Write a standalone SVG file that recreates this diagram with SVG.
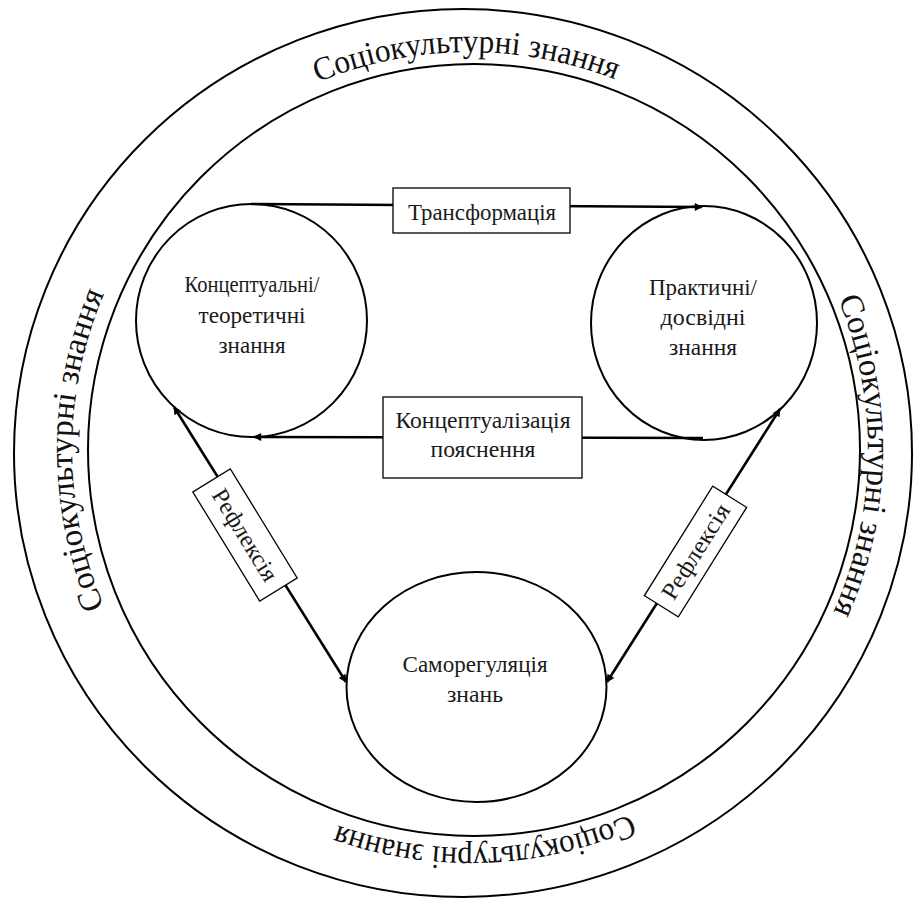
<svg xmlns="http://www.w3.org/2000/svg" width="913" height="899" viewBox="0 0 913 899">
<style>
.ring{fill:none;stroke:#000;stroke-width:2}
.node{fill:#fff;stroke:#000;stroke-width:2}
.lbl{font-family:"Liberation Serif","Times New Roman",serif;font-size:24px;fill:#1a1a1a;text-anchor:middle}
.arc{font-family:"Liberation Serif","Times New Roman",serif;font-size:33px;fill:#111;text-anchor:middle}
.edge{stroke:#000;stroke-width:2.6;fill:none}
.box{fill:#fff;stroke:#000;stroke-width:1.3}
</style>
<defs>
<marker id="ah" viewBox="0 0 10 10" refX="9" refY="5" markerWidth="12" markerHeight="8" markerUnits="userSpaceOnUse" orient="auto-start-reverse"><path d="M0,0 L10,5 L0,10 z" fill="#000"/></marker>
<path id="pTop" d="M 72 450 A 398 398 0 0 1 868 450"/>
<path id="pLeft" d="M 470 848 A 398 398 0 0 1 470 52"/>
<path id="pRight" d="M 470 52 A 398 398 0 0 1 470 848"/>
<path id="pBottom" d="M 868 450 A 398 398 0 0 1 72 450"/>
</defs>
<rect width="913" height="899" fill="#fff"/>
<g id="socio-ring">
<ellipse class="ring" cx="463" cy="453" rx="449" ry="444"/>
<circle class="ring" cx="474" cy="450" r="386"/>
<text class="arc"><textPath href="#pTop" startOffset="621" textLength="305" lengthAdjust="spacingAndGlyphs">Соціокультурні знання</textPath></text>
<text class="arc"><textPath href="#pLeft" startOffset="50%" textLength="322" lengthAdjust="spacingAndGlyphs">Соціокультурні знання</textPath></text>
<text class="arc"><textPath href="#pRight" startOffset="631" textLength="322" lengthAdjust="spacingAndGlyphs">Соціокультурні знання</textPath></text>
<text class="arc"><textPath href="#pBottom" startOffset="610" textLength="300" lengthAdjust="spacingAndGlyphs">Соціокультурні знання</textPath></text>
</g>
<g id="node-conceptual">
<ellipse class="node" cx="251.5" cy="320.5" rx="115.5" ry="116.5"/>
<text class="lbl" x="252" y="292" textLength="135" lengthAdjust="spacingAndGlyphs">Концептуальні/</text>
<text class="lbl" x="252" y="323" textLength="107" lengthAdjust="spacingAndGlyphs">теоретичні</text>
<text class="lbl" x="252" y="353" textLength="67" lengthAdjust="spacingAndGlyphs">знання</text>
</g>
<g id="node-practical">
<ellipse class="node" cx="704" cy="323" rx="113" ry="117"/>
<text class="lbl" x="703" y="295" textLength="108" lengthAdjust="spacingAndGlyphs">Практичні/</text>
<text class="lbl" x="703" y="325" textLength="85" lengthAdjust="spacingAndGlyphs">досвідні</text>
<text class="lbl" x="703" y="355" textLength="68" lengthAdjust="spacingAndGlyphs">знання</text>
</g>
<g id="node-selfreg">
<ellipse class="node" cx="476.5" cy="687" rx="130" ry="115"/>
<text class="lbl" x="475" y="672" textLength="145" lengthAdjust="spacingAndGlyphs">Саморегуляція</text>
<text class="lbl" x="475" y="702" textLength="56" lengthAdjust="spacingAndGlyphs">знань</text>
</g>
<g id="connectors">
<path class="edge" d="M 251 204 L 702 207" marker-end="url(#ah)"/>
<path class="edge" d="M 703 438 L 254 437" marker-end="url(#ah)"/>
<path class="edge" d="M 174 407 L 346 682" marker-start="url(#ah)" marker-end="url(#ah)"/>
<path class="edge" d="M 607 682 L 780 409" marker-start="url(#ah)" marker-end="url(#ah)"/>
<g id="label-transform">
<rect class="box" x="393" y="188" width="177" height="45"/>
<text class="lbl" x="482" y="220" textLength="148" lengthAdjust="spacingAndGlyphs">Трансформація</text>
</g>
<g id="label-conceptualization">
<rect class="box" x="383" y="397" width="199" height="81"/>
<text class="lbl" x="483" y="428" textLength="175" lengthAdjust="spacingAndGlyphs">Концептуалізація</text>
<text class="lbl" x="483" y="457" textLength="105" lengthAdjust="spacingAndGlyphs">пояснення</text>
</g>
<g id="label-reflection-left" transform="translate(245 535) rotate(58.5)">
<rect class="box" x="-64" y="-22" width="128" height="44"/>
<text class="lbl" x="0" y="8" textLength="104" lengthAdjust="spacingAndGlyphs">Рефлексія</text>
</g>
<g id="label-reflection-right" transform="translate(695.5 551.5) rotate(-58)">
<rect class="box" x="-64.5" y="-20" width="129" height="40"/>
<text class="lbl" x="0" y="8" textLength="108" lengthAdjust="spacingAndGlyphs">Рефлексія</text>
</g>
</g>
</svg>
